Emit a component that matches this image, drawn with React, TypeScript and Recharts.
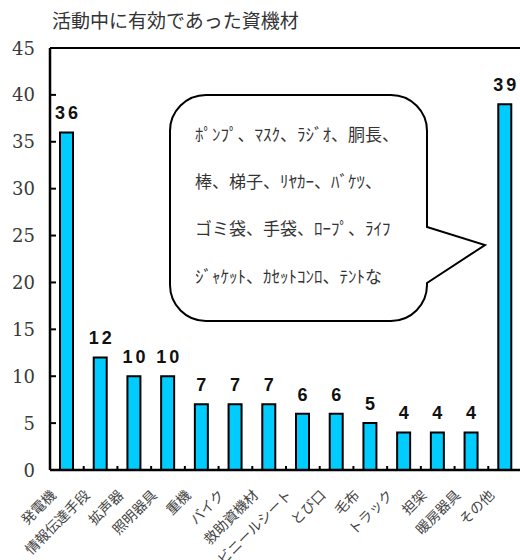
import React from 'react';
import { BarChart, Bar, XAxis, YAxis, LabelList, ReferenceLine, Customized } from 'recharts';

// Equipment that proved useful during operations (number of responses)
const categories = [
  '発電機', '情報伝達手段', '拡声器', '照明器具', '重機', 'バイク', '救助資機材',
  'ビニールシート', 'とび口', '毛布', 'トラック', '担架', '暖房器具', 'その他',
];
const counts = [36, 12, 10, 10, 7, 7, 7, 6, 6, 5, 4, 4, 4, 39];
const yTicks = [0, 5, 10, 15, 20, 25, 30, 35, 40, 45];
const title = '活動中に有効であった資機材';
// Breakdown of "その他" shown in the speech bubble
const otherItems = [
  'ﾎﾟﾝﾌﾟ、ﾏｽｸ、ﾗｼﾞｵ、胴長、',
  '棒、梯子、ﾘﾔｶｰ、ﾊﾞｹﾂ、',
  'ゴミ袋、手袋、ﾛｰﾌﾟ、ﾗｲﾌ',
  'ｼﾞｬｹｯﾄ、ｶｾｯﾄｺﾝﾛ、ﾃﾝﾄな',
];

const data = categories.map((name, i) => ({ name, count: counts[i] }));

const CHART_W = 530;
const CHART_H = 560;
const MARGIN = { top: 48, right: 8, bottom: 30, left: 0 };
const Y_AXIS_W = 50;
const X_AXIS_H = 60;
const PLOT_LEFT = MARGIN.left + Y_AXIS_W;
const PLOT_RIGHT = CHART_W - MARGIN.right;
const PLOT_BOTTOM = CHART_H - MARGIN.bottom - X_AXIS_H;
const BAND = (PLOT_RIGHT - PLOT_LEFT) / categories.length;

const JP_FONT = '"Noto Sans CJK JP", "Noto Sans", sans-serif';

const YTick = (props: any) => {
  const { y, payload } = props;
  return (
    <g>
      {payload.value > 0 && (
        <line x1={PLOT_LEFT} x2={PLOT_LEFT + 6} y1={y} y2={y} stroke="#000" strokeWidth={2} />
      )}
      <text
        x={PLOT_LEFT - 15}
        y={y}
        textAnchor="end"
        dominantBaseline="central"
        fontFamily='"DejaVu Serif", serif'
        fontSize={18}
        fill="#3a3a3a"
      >
        {payload.value}
      </text>
    </g>
  );
};

const XTick = (props: any) => {
  const { x, payload, index } = props;
  const tx = x - 10;
  const ty = PLOT_BOTTOM + 26;
  return (
    <g>
      {index < categories.length - 1 && (
        <line x1={x + BAND / 2} x2={x + BAND / 2} y1={PLOT_BOTTOM - 4} y2={PLOT_BOTTOM} stroke="#000" strokeWidth={2} />
      )}
      <text
        x={tx}
        y={ty}
        textAnchor="end"
        transform={`rotate(-45, ${tx}, ${ty})`}
        fontFamily={JP_FONT}
        fontSize={14}
        fill="#444"
      >
        {payload.value}
      </text>
    </g>
  );
};

const BarValue = (props: any) => {
  const { x, y, width, value } = props;
  return (
    <text
      x={x + width / 2 + 1.5}
      y={y - 13}
      textAnchor="middle"
      fontFamily='"Liberation Sans", Arial, sans-serif'
      fontWeight="bold"
      fontSize={18}
      letterSpacing={3}
      fill="#111"
    >
      {value}
    </text>
  );
};

// Speech bubble listing the items grouped under "その他"
const Bubble = () => {
  const L = 170, R = 427, T = 95, B = 321, r = 36;
  const d = [
    `M ${L + r} ${T}`,
    `H ${R - r}`,
    `A ${r} ${r} 0 0 1 ${R} ${T + r}`,
    `V 227`,
    `L 485 245`,
    `L ${R} 283`,
    `V ${B - r}`,
    `A ${r} ${r} 0 0 1 ${R - r} ${B}`,
    `H ${L + r}`,
    `A ${r} ${r} 0 0 1 ${L} ${B - r}`,
    `V ${T + r}`,
    `A ${r} ${r} 0 0 1 ${L + r} ${T}`,
    'Z',
  ].join(' ');
  const lineYs = [133, 180, 227, 275];
  return (
    <g>
      <path d={d} fill="#fff" stroke="#000" strokeWidth={2} />
      {otherItems.map((t, i) => (
        <text
          key={i}
          x={195}
          y={lineYs[i]}
          dominantBaseline="central"
          fontFamily={JP_FONT}
          fontSize={17}
          fill="#333"
        >
          {t}
        </text>
      ))}
    </g>
  );
};

export default function App() {
  return (
    <div
      style={{
        position: 'absolute',
        left: 0,
        top: 0,
        width: 520,
        height: 560,
        overflow: 'hidden',
        background: '#fff',
      }}
    >
      <div
        style={{
          position: 'absolute',
          left: 52,
          top: 6,
          fontFamily: JP_FONT,
          fontSize: 19,
          color: '#333',
          whiteSpace: 'nowrap',
          lineHeight: '28px',
        }}
      >
        {title}
      </div>
      <BarChart width={CHART_W} height={CHART_H} data={data} margin={MARGIN} barSize={13}>
        <XAxis
          dataKey="name"
          interval={0}
          height={X_AXIS_H}
          tickSize={0}
          tickMargin={0}
          tickLine={false}
          axisLine={{ stroke: '#000', strokeWidth: 2.5 }}
          tick={<XTick />}
        />
        <YAxis
          domain={[0, 45]}
          ticks={yTicks}
          width={Y_AXIS_W}
          tickLine={false}
          axisLine={{ stroke: '#000', strokeWidth: 2.5 }}
          tick={<YTick />}
          interval={0}
        />
        <ReferenceLine y={45} stroke="#000" strokeWidth={2} />
        <Bar dataKey="count" fill="#00CCFF" stroke="#000" strokeWidth={2} isAnimationActive={false}>
          <LabelList dataKey="count" content={<BarValue />} />
        </Bar>
        <Customized component={<Bubble />} />
      </BarChart>
    </div>
  );
}
